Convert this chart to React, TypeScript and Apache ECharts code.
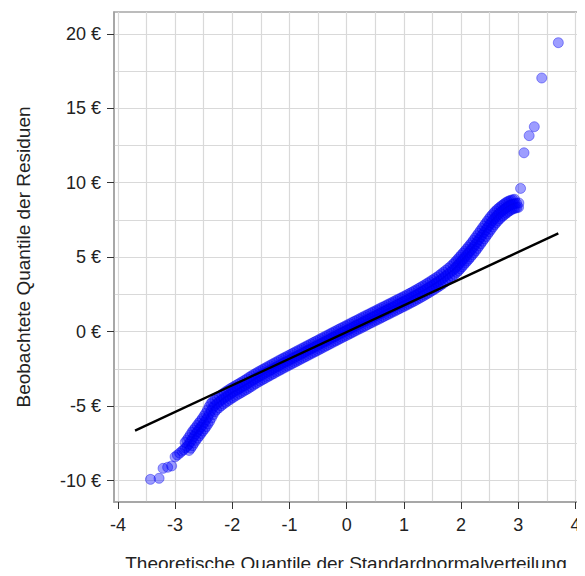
import React, { useEffect, useRef } from "react";
import * as echarts from "echarts";

// Theoretical quantile ticks and residual ticks
const xTicks = [-4, -3, -2, -1, 0, 1, 2, 3, 4];
const yTicks = [-10, -5, 0, 5, 10, 15, 20];
const xGridLines = [-4, -3.5, -3, -2.5, -2, -1.5, -1, -0.5, 0, 0.5, 1, 1.5, 2, 2.5, 3, 3.5, 4];
const yGridLines = [-10, -7.5, -5, -2.5, 0, 2.5, 5, 7.5, 10, 12.5, 15, 17.5, 20];

// Isolated points of the lower tail
const lowTail: number[][] = [
  [-3.43, -9.91], [-3.28, -9.84], [-3.21, -9.17], [-3.13, -9.10], [-3.06, -9.01],
  [-3.0, -8.4], [-2.96, -8.28], [-2.92, -8.15], [-2.88, -8.02], [-2.85, -7.92], [-2.82, -7.8],
];

// Dense band of residual quantiles
const band: number[][] = [
  [-2.79, -7.7], [-2.76, -7.55], [-2.73, -7.38], [-2.7, -7.2], [-2.67, -7.02], [-2.64, -6.86],
  [-2.61, -6.72], [-2.58, -6.56], [-2.55, -6.4], [-2.52, -6.26], [-2.49, -6.1], [-2.46, -5.92],
  [-2.43, -5.74], [-2.4, -5.52], [-2.37, -5.3], [-2.34, -5.1], [-2.31, -4.97], [-2.27, -4.84],
  [-2.23, -4.71], [-2.19, -4.59], [-2.15, -4.48], [-2.11, -4.37], [-2.07, -4.27], [-2.03, -4.17],
  [-1.99, -4.07], [-1.95, -3.98], [-1.91, -3.89], [-1.87, -3.8], [-1.83, -3.71], [-1.79, -3.62],
  [-1.75, -3.53], [-1.71, -3.43], [-1.67, -3.33], [-1.63, -3.23], [-1.59, -3.14], [-1.55, -3.05],
  [-1.51, -2.96], [-1.47, -2.88], [-1.43, -2.79], [-1.39, -2.71], [-1.35, -2.62], [-1.31, -2.54],
  [-1.27, -2.45], [-1.23, -2.37], [-1.19, -2.29], [-1.15, -2.2], [-1.11, -2.12], [-1.07, -2.04],
  [-1.03, -1.96], [-0.99, -1.88], [-0.95, -1.8], [-0.91, -1.72], [-0.87, -1.64], [-0.83, -1.56],
  [-0.79, -1.48], [-0.75, -1.4], [-0.71, -1.32], [-0.67, -1.24], [-0.63, -1.16], [-0.59, -1.08],
  [-0.55, -1.0], [-0.51, -0.92], [-0.47, -0.84], [-0.43, -0.76], [-0.39, -0.68], [-0.35, -0.6],
  [-0.31, -0.52], [-0.27, -0.44], [-0.23, -0.36], [-0.19, -0.28], [-0.15, -0.2], [-0.11, -0.12],
  [-0.07, -0.04], [-0.03, 0.03], [0.01, 0.11], [0.05, 0.19], [0.09, 0.27], [0.13, 0.35],
  [0.17, 0.43], [0.21, 0.5], [0.25, 0.58], [0.29, 0.66], [0.33, 0.74], [0.37, 0.82],
  [0.41, 0.89], [0.45, 0.97], [0.49, 1.05], [0.53, 1.12], [0.57, 1.2], [0.61, 1.28],
  [0.65, 1.36], [0.69, 1.43], [0.73, 1.51], [0.77, 1.59], [0.81, 1.66], [0.85, 1.74],
  [0.89, 1.82], [0.93, 1.9], [0.97, 1.97], [1.01, 2.05], [1.05, 2.13], [1.09, 2.21],
  [1.13, 2.29], [1.17, 2.37], [1.21, 2.46], [1.25, 2.54], [1.29, 2.63], [1.33, 2.72],
  [1.37, 2.81], [1.41, 2.9], [1.45, 3.0], [1.49, 3.09], [1.53, 3.19], [1.57, 3.29],
  [1.61, 3.39], [1.65, 3.5], [1.69, 3.62], [1.73, 3.74], [1.77, 3.86], [1.81, 3.98],
  [1.85, 4.11], [1.89, 4.25], [1.92, 4.36], [1.95, 4.49], [1.98, 4.62], [2.01, 4.75],
  [2.04, 4.88], [2.07, 5.01], [2.1, 5.14], [2.13, 5.28], [2.16, 5.42], [2.19, 5.56],
  [2.22, 5.7], [2.25, 5.86], [2.28, 6.02], [2.31, 6.18], [2.34, 6.34], [2.37, 6.5],
  [2.4, 6.66], [2.43, 6.82], [2.46, 6.98], [2.49, 7.14], [2.52, 7.3], [2.55, 7.45],
  [2.58, 7.58], [2.61, 7.72], [2.64, 7.84], [2.67, 7.95], [2.7, 8.05], [2.73, 8.14],
  [2.76, 8.23], [2.79, 8.32], [2.82, 8.4], [2.85, 8.47], [2.88, 8.52], [2.91, 8.56],
  [2.94, 8.59], [2.97, 8.62],
];

// Isolated points of the upper tail
const highTail: number[][] = [
  [3.01, 8.64], [3.04, 9.62], [3.1, 12.01], [3.19, 13.16], [3.28, 13.76], [3.41, 17.03], [3.7, 19.4],
];

// Reference line (normal QQ line)
const qqLine: number[][] = [[-3.7, -6.64], [3.7, 6.6]];

const FONT = "Liberation Sans, Arial, sans-serif";
const pointStyle = {
  color: "rgba(0,0,255,0.48)",
  borderColor: "rgba(0,0,235,0.5)",
  borderWidth: 1,
};

const bandSeries = (offset: number[]) => ({
  type: "scatter",
  data: band,
  symbolSize: 10,
  symbolOffset: offset,
  itemStyle: pointStyle,
  z: 2,
});

export default function App() {
  const ref = useRef<HTMLDivElement>(null);
  useEffect(() => {
    if (!ref.current) return;
    const chart = echarts.init(ref.current, null, { renderer: "svg" });
    chart.setOption({
      animation: false,
      grid: {
        left: 114,
        top: 12,
        right: 7,
        bottom: 74,
        show: true,
        borderColor: "#a6a6a6",
        borderWidth: 1.5,
        containLabel: false,
        outerBoundsMode: "none",
      },
      xAxis: {
        type: "value",
        min: -4.068,
        max: 4.044,
        splitLine: { show: false },
        axisLine: { show: true, onZero: false, lineStyle: { color: "#a0a0a0", width: 1.5 } },
        axisTick: { show: true, length: 7, customValues: xTicks, lineStyle: { color: "#333", width: 1 } },
        axisLabel: {
          customValues: xTicks,
          margin: 14,
          fontSize: 18,
          color: "#222",
          fontFamily: FONT,
        },
        name: "Theoretische Quantile der Standardnormalverteilung",
        nameLocation: "middle",
        nameGap: 52,
        nameTextStyle: { fontSize: 19, color: "#222", fontFamily: FONT },
      },
      yAxis: {
        type: "value",
        min: -11.43,
        max: 21.46,
        splitLine: { show: false },
        axisLine: { show: true, onZero: false, lineStyle: { color: "#a0a0a0", width: 1.5 } },
        axisTick: { show: true, length: 7, customValues: yTicks, lineStyle: { color: "#333", width: 1 } },
        axisLabel: {
          customValues: yTicks,
          margin: 13,
          fontSize: 18,
          color: "#222",
          fontFamily: FONT,
          formatter: (v: number) => `${v} €`,
        },
        name: "Beobachtete Quantile der Residuen",
        nameLocation: "middle",
        nameGap: 81,
        nameTextStyle: { fontSize: 19, color: "#222", fontFamily: FONT },
      },
      series: [
        {
          type: "scatter",
          data: [],
          silent: true,
          z: 0,
          markLine: {
            silent: true,
            z: 0,
            symbol: "none",
            label: { show: false },
            lineStyle: { color: "#d9d9d9", width: 1.2, type: "solid" },
            data: [
              ...xGridLines.map((v) => ({ xAxis: v })),
              ...yGridLines.map((v) => ({ yAxis: v })),
            ],
          },
        },
        {
          type: "scatter",
          data: lowTail,
          symbolSize: 10,
          itemStyle: pointStyle,
          z: 2,
        },
        bandSeries([-2, -4]),
        bandSeries([0, 0]),
        bandSeries([2, 4]),
        {
          type: "scatter",
          data: highTail,
          symbolSize: 10,
          itemStyle: pointStyle,
          z: 2,
        },
        {
          type: "line",
          data: qqLine,
          symbol: "none",
          lineStyle: { color: "#000", width: 2.4 },
          z: 5,
        },
      ],
    });
    return () => chart.dispose();
  }, []);
  return <div ref={ref} style={{ width: 585, height: 576, margin: -8 }} />;
}
